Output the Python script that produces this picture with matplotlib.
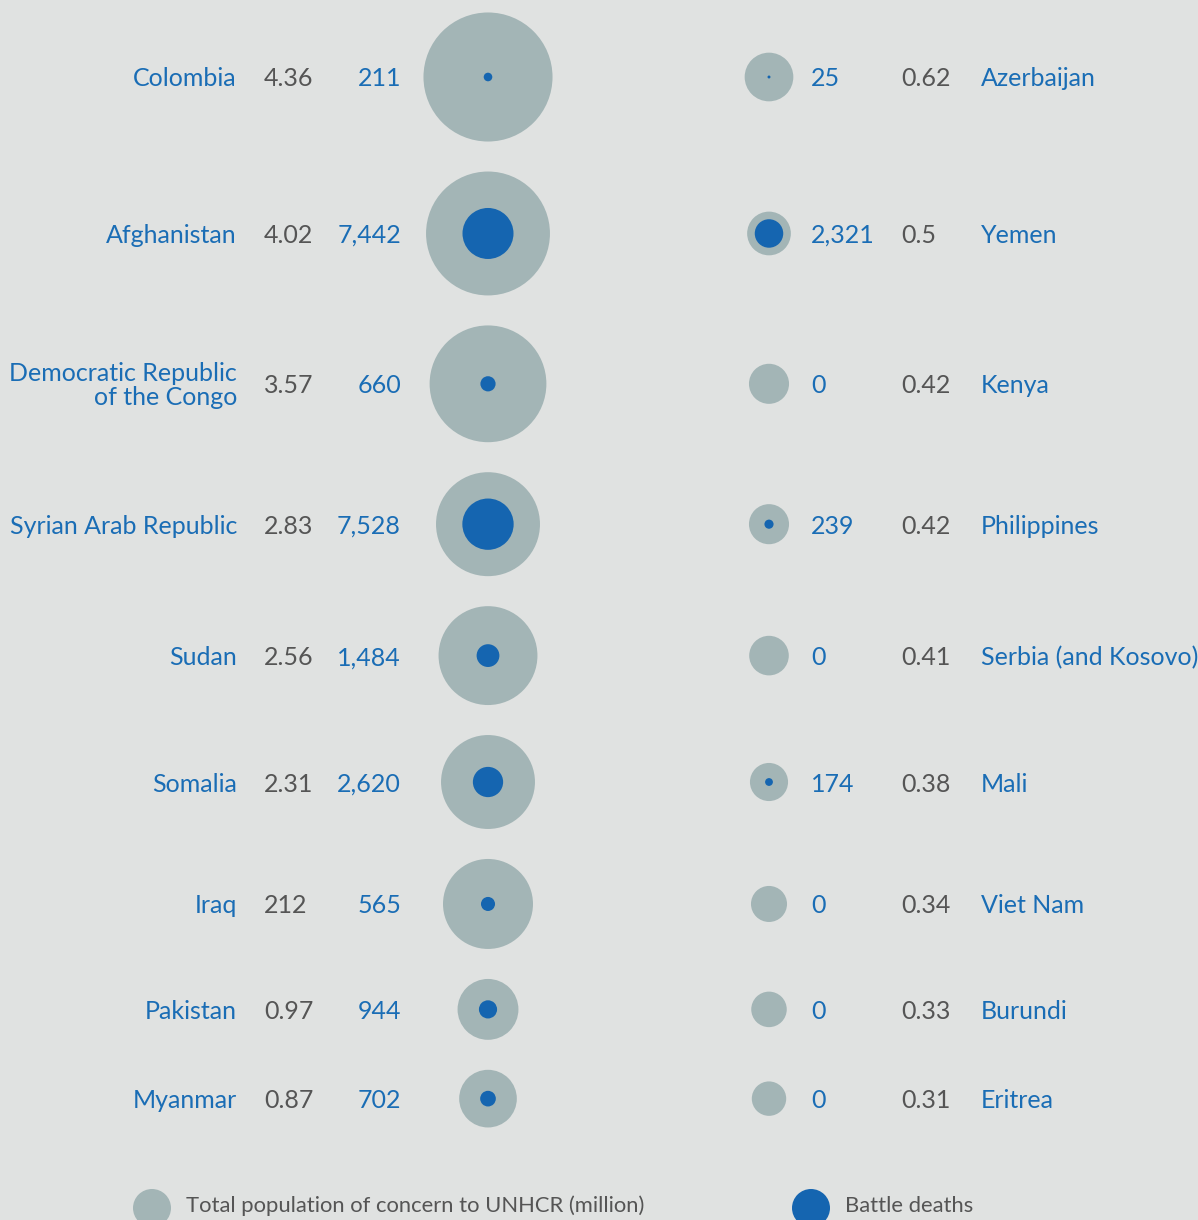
import numpy as np
import matplotlib.pyplot as plt
from matplotlib.patches import Circle

# left column: top 9 by population of concern
left_names = ['Colombia', 'Afghanistan', 'Democratic Republic\nof the Congo',
              'Syrian Arab Republic', 'Sudan', 'Somalia', 'Iraq', 'Pakistan', 'Myanmar']
left_pop = [4.36, 4.02, 3.57, 2.83, 2.56, 2.31, 2.12, 0.97, 0.87]
left_pop_labels = ['4.36', '4.02', '3.57', '2.83', '2.56', '2.31', '212', '0.97', '0.87']
left_deaths = [211, 7442, 660, 7528, 1484, 2620, 565, 944, 702]

# right column
right_names = ['Azerbaijan', 'Yemen', 'Kenya', 'Philippines', 'Serbia (and Kosovo)',
               'Mali', 'Viet Nam', 'Burundi', 'Eritrea']
right_pop = [0.62, 0.5, 0.42, 0.42, 0.41, 0.38, 0.34, 0.33, 0.31]
right_pop_labels = ['0.62', '0.5', '0.42', '0.42', '0.41', '0.38', '0.34', '0.33', '0.31']
right_deaths = [25, 2321, 0, 239, 0, 174, 0, 0, 0]

BG = '#e0e2e1'
GREY = '#a3b5b6'
BLUE = '#1565b0'
TXT_BLUE = '#1a6db5'
TXT_GREY = '#555555'
FONT = 'Lato'
FS = 18

k_pop = 30.9     # px per sqrt(million)
k_death = 0.2956  # px per sqrt(death)

fig = plt.figure(figsize=(11.98, 12.2), dpi=100, facecolor=BG)
ax = fig.add_axes([0, 0, 1, 1])
ax.set_facecolor(BG)
ax.set_xlim(0, 1198)
ax.set_ylim(1220, 0)
ax.axis('off')

# row positions: stacked so that neighbouring big circles keep a fixed gap
r_left = k_pop * np.sqrt(left_pop)
ys = [77.0]
for i in range(1, len(r_left)):
    ys.append(ys[-1] + r_left[i - 1] + r_left[i] + 30)

lx, rx = 488, 769
dy = 2  # text nudge
for i, y in enumerate(ys):
    # left side
    ax.add_patch(Circle((lx, y), k_pop * np.sqrt(left_pop[i]), color=GREY, lw=0))
    ax.add_patch(Circle((lx, y), k_death * np.sqrt(left_deaths[i]), color=BLUE, lw=0))
    ax.text(237, y + dy, left_names[i], ha='right', va='center', color=TXT_BLUE,
            fontsize=FS, family=FONT, linespacing=1.05, multialignment='right')
    ax.text(264, y + dy, left_pop_labels[i], ha='left', va='center', color=TXT_GREY,
            fontsize=FS, family=FONT)
    ax.text(401, y + dy, f'{left_deaths[i]:,}', ha='right', va='center', color=TXT_BLUE,
            fontsize=FS, family=FONT)
    # right side
    ax.add_patch(Circle((rx, y), k_pop * np.sqrt(right_pop[i]), color=GREY, lw=0))
    if right_deaths[i] > 0:
        ax.add_patch(Circle((rx, y), k_death * np.sqrt(right_deaths[i]), color=BLUE, lw=0))
    ax.text(811, y + dy, f'{right_deaths[i]:,}', ha='left', va='center', color=TXT_BLUE,
            fontsize=FS, family=FONT)
    ax.text(901, y + dy, right_pop_labels[i], ha='left', va='center', color=TXT_GREY,
            fontsize=FS, family=FONT)
    ax.text(981, y + dy, right_names[i], ha='left', va='center', color=TXT_BLUE,
            fontsize=FS, family=FONT)

# legend
ax.add_patch(Circle((152, 1208), 19, color=GREY, lw=0))
ax.text(186, 1206, 'Total population of concern to UNHCR (million)', ha='left',
        va='center', color=TXT_GREY, fontsize=15.8, family=FONT)
ax.add_patch(Circle((811, 1208), 19, color=BLUE, lw=0))
ax.text(845, 1206, 'Battle deaths', ha='left', va='center', color=TXT_GREY,
        fontsize=15.8, family=FONT)

fig.savefig('out.png', dpi=100, facecolor=BG)
